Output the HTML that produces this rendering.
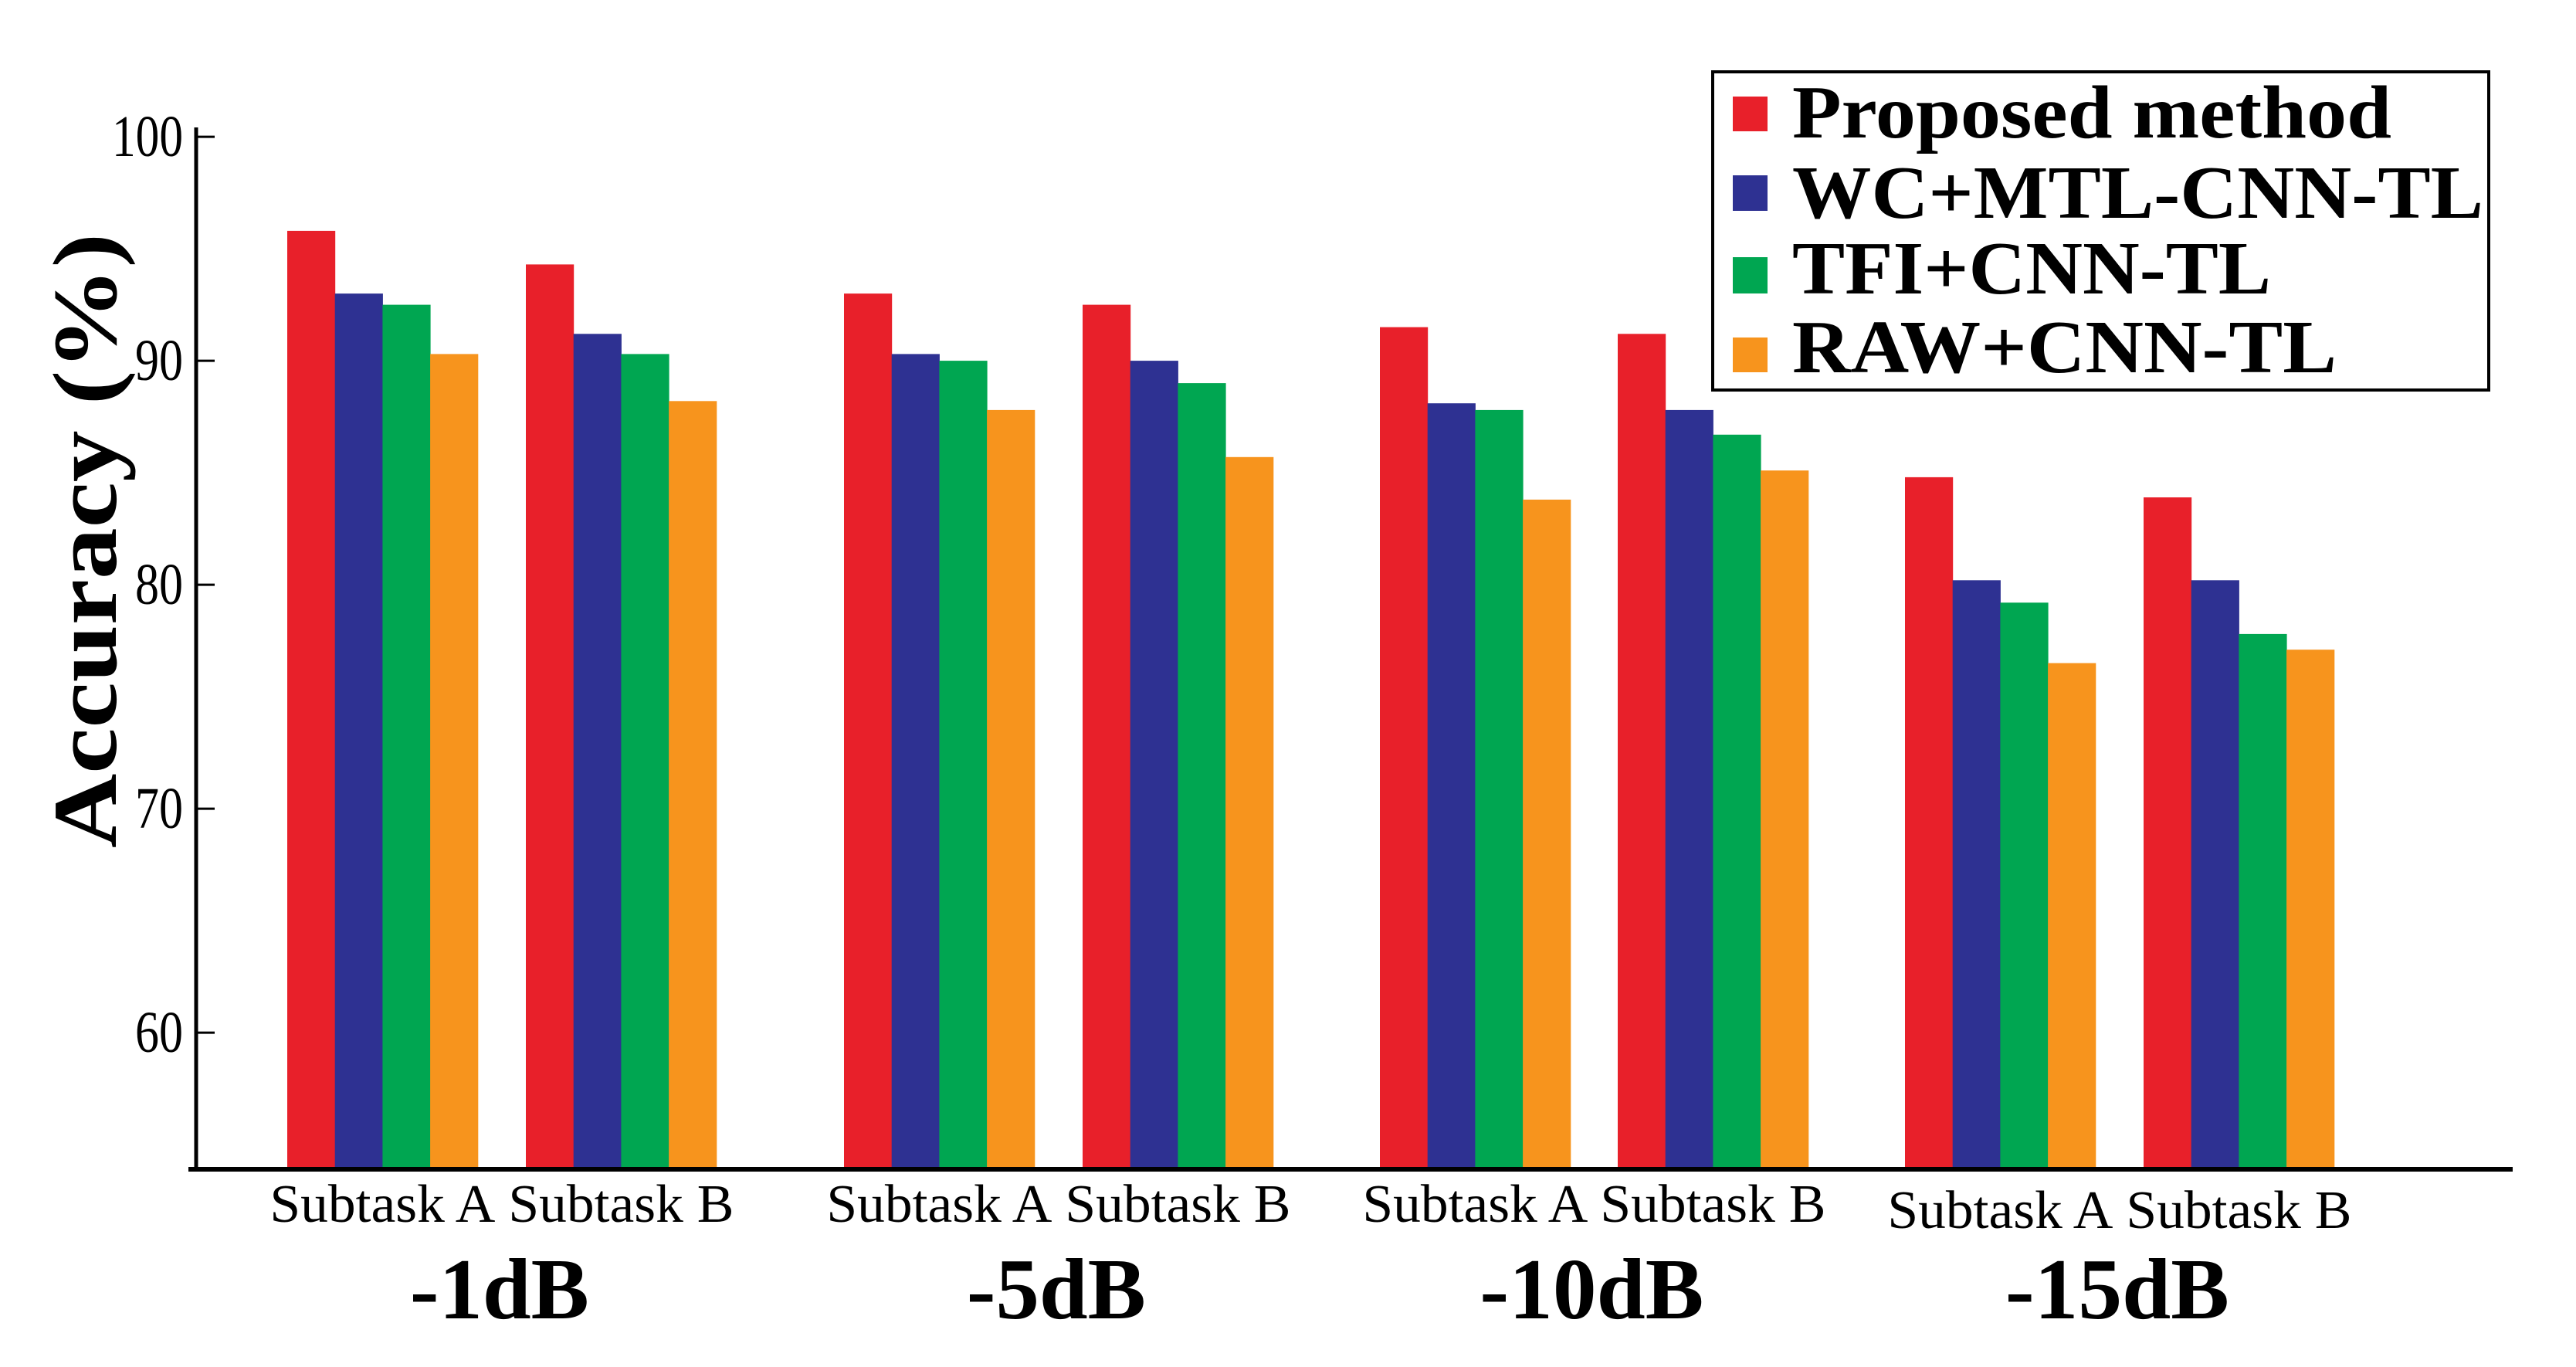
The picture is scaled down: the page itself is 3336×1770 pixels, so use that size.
<!DOCTYPE html>
<html><head><meta charset="utf-8"><style>
html,body{margin:0;padding:0;background:#fff;}
svg{display:block;}
text{font-family:"Liberation Serif",serif;fill:#000;}
</style></head><body>
<svg id="chart" width="3336" height="1770" viewBox="0 0 3336 1770" xmlns="http://www.w3.org/2000/svg">
<g id="axes"></g>
<g id="bars"></g>
<g id="labels"></g>
<text transform="translate(150,700) rotate(-90)" text-anchor="middle" font-size="118" font-weight="bold" textLength="796" lengthAdjust="spacingAndGlyphs">Accuracy (%)</text>
<g>
<rect x="2218" y="93" width="1005" height="412" fill="#fff" stroke="#000" stroke-width="4"/>
<rect x="2244" y="125" width="45" height="45" fill="#e8202a"/>
<text x="2321" y="178" font-size="98" font-weight="bold" textLength="776" lengthAdjust="spacingAndGlyphs">Proposed method</text>
<rect x="2244" y="227" width="45" height="46" fill="#2e3192"/>
<text x="2321" y="282" font-size="98" font-weight="bold" textLength="895" lengthAdjust="spacingAndGlyphs">WC+MTL-CNN-TL</text>
<rect x="2244" y="333" width="45" height="47" fill="#00a651"/>
<text x="2321" y="380" font-size="98" font-weight="bold" textLength="620" lengthAdjust="spacingAndGlyphs">TFI+CNN-TL</text>
<rect x="2244" y="437" width="45" height="45" fill="#f7941d"/>
<text x="2321" y="482" font-size="98" font-weight="bold" textLength="705" lengthAdjust="spacingAndGlyphs">RAW+CNN-TL</text>
</g>
</svg>
<script>
const groups = ["-1dB","-5dB","-10dB","-15dB"];
const subtasks = ["Subtask A","Subtask B"];
const seriesNames = ["Proposed method","WC+MTL-CNN-TL","TFI+CNN-TL","RAW+CNN-TL"];
const proposed = [95.8,94.3,93.0,92.5,91.5,91.2,84.8,83.9];
const wcmtl    = [93.0,91.2,90.3,90.0,88.1,87.8,80.2,80.2];
const tfi      = [92.5,90.3,90.0,89.0,87.8,86.7,79.2,77.8];
const raw      = [90.3,88.2,87.8,85.7,83.8,85.1,76.5,77.1];
const yTicks = [60,70,80,90,100];

const NS="http://www.w3.org/2000/svg";
const colors=["#e8202a","#2e3192","#00a651","#f7941d"];
const series=[proposed,wcmtl,tfi,raw];
const yMin=53.9, y0px=1514, pxPerUnit=29.0;
function y(v){return y0px-(v-yMin)*pxPerUnit;}
const barW=61.7, groupStarts=[372,681,1093,1402,1787,2095,2467,2776];
function x(i){return groupStarts[i];}
function mk(tag,attrs,parent){const e=document.createElementNS(NS,tag);for(const k in attrs)e.setAttribute(k,attrs[k]);parent.appendChild(e);return e;}

const axes=document.getElementById('axes');
let l=mk('line',{x1:254,y1:165,x2:254,y2:y0px,stroke:'#000','stroke-width':5},axes);


l=mk('line',{x1:244,y1:y0px,x2:3254,y2:y0px,stroke:'#000','stroke-width':6},axes);


yTicks.forEach(t=>{
  const tk=mk('line',{x1:254,y1:y(t),x2:278,y2:y(t),stroke:'#000','stroke-width':3},axes);
  
  
  const tx=mk('text',{x:237,y:y(t)+25,'text-anchor':'end','font-size':76},axes);
  
  
  tx.setAttribute('textLength',t>=100?92:62);
  tx.setAttribute('lengthAdjust','spacingAndGlyphs');
  tx.textContent=t;
});

const bars=document.getElementById('bars');
series.forEach((s,si)=>{
  s.forEach((v,i)=>{
    const r=mk('rect',{x:x(i)+si*barW,y:y(v),width:barW+0.5,height:y0px-y(v)-3,fill:colors[si]},bars);
    
    
  });
});

const labels=document.getElementById('labels');
for(let i=0;i<8;i++){
  const cx=x(i)+2*barW;
  const off=i>=6?8:0;
  const t=mk('text',{x:cx,y:1582+off,'text-anchor':'middle','font-size':70,textLength:292,lengthAdjust:'spacingAndGlyphs'},labels);
  
  
  t.textContent=subtasks[i%2];
}
groups.forEach((g,gi)=>{
  const cx=(x(gi*2)+x(gi*2+1))/2+2*barW-3;
  const t=mk('text',{x:cx,y:1707,'text-anchor':'middle','font-size':112,'font-weight':'bold',textLength:g.length*58,lengthAdjust:'spacingAndGlyphs'},labels);
  
  
  t.textContent=g;
});
</script>
</body></html>
